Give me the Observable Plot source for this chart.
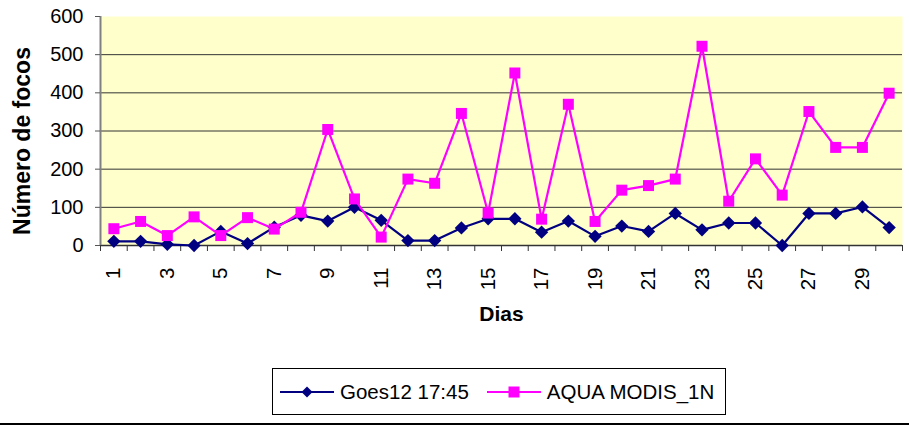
<!DOCTYPE html>
<html>
<head>
<meta charset="utf-8">
<script src="https://cdn.jsdelivr.net/npm/d3@7"></script>
<script src="https://cdn.jsdelivr.net/npm/@observablehq/plot@0.6"></script>
<style>
  html, body { margin: 0; padding: 0; background: #fff; }
  body { width: 909px; height: 425px; overflow: hidden; font-family: "Liberation Sans", Arial, sans-serif; }
  #chart svg { display: block; }
  #legend {
    margin-left: 272px; margin-top: 13px;
    width: 452px; height: 45px;
    border: 1px solid #000; box-sizing: content-box;
    display: flex; align-items: center;
    font-size: 20.5px; color: #000;
  }
  #legend .item { display: flex; align-items: center; }
  #legend svg { display: block; }
  #bottomline { margin-top: 8px; height: 2px; background: #000; width: 909px; }
</style>
</head>
<body>
<div id="chart"></div>
<div id="legend"></div>
<div id="bottomline"></div>
<script>
const days = [1,2,3,4,5,6,7,8,9,10,11,12,13,14,15,16,17,18,19,20,21,22,23,24,25,26,27,28,29,30];
const goes = [11,11,3,0,37,5,48,79,64,100,66,13,13,46,70,70,35,64,24,51,37,84,41,59,59,0,84,84,101,47];
const aqua = [44,63,26,75,26,73,43,87,304,122,22,174,163,346,85,452,69,370,63,145,157,174,522,116,227,132,351,257,257,399];
const yTicks = [0,100,200,300,400,500,600];
const xLabels = [1,3,5,7,9,11,13,15,17,19,21,23,25,27,29];
const seriesNames = ["Goes12 17:45", "AQUA MODIS_1N"];
const seriesColors = ["#000080", "#FF00FF"];
const yTitle = "Número de focos";
const xTitle = "Dias";

const goesData = days.map((d, i) => ({day: d, value: goes[i]}));
const aquaData = days.map((d, i) => ({day: d, value: aqua[i]}));
const boundaries = days.map(d => d - 0.5).concat([days[days.length - 1] + 0.5]);
const font = "'Liberation Sans', Arial, sans-serif";

const chart = Plot.plot({
  width: 909,
  height: 355,
  marginLeft: 100,
  marginRight: 7,
  marginTop: 16,
  marginBottom: 110,
  style: {fontFamily: font, background: "white", color: "black", overflow: "visible"},
  x: {domain: [0.5, 30.5]},
  y: {domain: [0, 600]},
  marks: [
    Plot.frame({fill: "#FFFFCC", stroke: null}),
    Plot.ruleY(yTicks.filter(v => v > 0 && v < 600), {stroke: "#333", strokeWidth: 1}),
    Plot.ruleY([0], {stroke: "#333", strokeWidth: 1.5}),
    Plot.ruleX([0.5], {stroke: "#808080", strokeWidth: 2}),
    Plot.axisY({ticks: yTicks, tickSize: 5, tickPadding: 12, fontSize: 20, label: null, stroke: "#555"}),
    Plot.axisX({ticks: boundaries, tickSize: 6, tickFormat: () => "", label: null, stroke: "#333"}),
    Plot.axisX({ticks: xLabels, tickSize: 0, tickPadding: 22, tickRotate: -90, fontSize: 20.5, label: null}),
    Plot.text([yTitle], {frameAnchor: "left", textAnchor: "middle", rotate: -90, dx: -78, dy: 10, fontSize: 23, fontWeight: "bold"}),
    Plot.text([xTitle], {frameAnchor: "bottom", dy: 75, fontSize: 21, fontWeight: "bold"}),
    Plot.line(goesData, {x: "day", y: "value", stroke: seriesColors[0], strokeWidth: 2.2}),
    Plot.dot(goesData, {x: "day", y: "value", symbol: "diamond2", r: 6, fill: seriesColors[0], stroke: null}),
    Plot.line(aquaData, {x: "day", y: "value", stroke: seriesColors[1], strokeWidth: 2.2}),
    Plot.dot(aquaData, {x: "day", y: "value", symbol: "square", r: 6.2, fill: seriesColors[1], stroke: null})
  ]
});
document.getElementById("chart").appendChild(chart);

// Legend
const legend = document.getElementById("legend");
const symbols = ["diamond", "square"];
seriesNames.forEach((name, i) => {
  const item = document.createElement("div");
  item.className = "item";
  item.style.marginLeft = i === 0 ? "7px" : "18px";
  const sym = symbols[i] === "diamond"
    ? `<path d="M27,1.5 L32.5,7 L27,12.5 L21.5,7 Z" fill="${seriesColors[i]}"/>`
    : `<rect x="21.5" y="1.5" width="11" height="11" fill="${seriesColors[i]}"/>`;
  item.innerHTML = `<svg width="54" height="14"><line x1="0" x2="54" y1="7" y2="7" stroke="${seriesColors[i]}" stroke-width="2"/>${sym}</svg><span style="margin-left:6px">${name}</span>`;
  legend.appendChild(item);
});
</script>
</body>
</html>
